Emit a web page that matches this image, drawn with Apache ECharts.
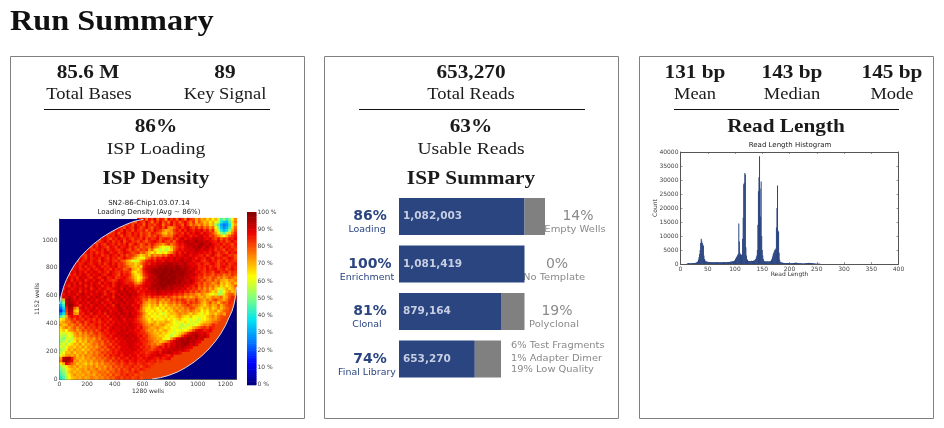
<!DOCTYPE html>
<html><head><meta charset="utf-8">
<style>html,body{margin:0;padding:0;background:#fff}#c{width:944px;height:428px}</style>
<script src="https://cdn.jsdelivr.net/npm/echarts@6/dist/echarts.min.js"></script>
</head><body><div id="c"></div>
<script>
// ---- funnel data
const funnelCats = ['Loading','Enrichment','Clonal','Final Library'];
const funnelKept = [1082003,1081419,879164,653270];
const funnelLost = [176140,0,202255,225894];
const funnelPct = ['86%','100%','81%','74%'];
const funnelRightPct = ['14%','0%','19%'];
const funnelRightName = ['Empty Wells','No Template','Polyclonal'];
const finalBreakdown = ['6% Test Fragments','1% Adapter Dimer','19% Low Quality'];
// ---- histogram: count per read length, index = bp
const readCounts = [0,0,0,0,0,0,0,0,0,0,0,0,100,200,300,350,300,280,260,250,260,280,300,320,340,360,380,400,450,500,
600,750,1000,1600,2500,3600,5000,7500,9000,8300,7500,7000,6500,3000,1800,1300,1000,900,850,800,
760,720,700,680,660,650,640,620,600,610,620,630,640,620,610,600,590,600,620,640,650,660,640,620,600,580,600,620,640,660,
680,700,680,660,640,650,670,690,700,720,740,760,780,800,850,900,950,1000,1100,1200,
1400,1800,2200,2500,2900,3300,3600,14500,8000,4000,3500,3300,3200,3500,9000,16500,28500,29000,32500,32000,
6000,3000,1800,1400,1200,1100,1050,1000,1050,1100,1150,1100,1050,1100,1200,1250,1300,1500,1800,2300,
3000,5000,14000,26000,31000,38500,27000,17000,29500,10000,5000,3000,1800,1200,1000,950,900,900,850,900,
950,900,850,900,950,1000,1200,1500,2000,2700,3500,4000,4500,5000,5200,5500,13000,20000,28000,12000,
11500,4000,1500,800,650,550,500,450,420,400,400,380,360,380,400,380,360,340,320,300,
300,280,300,320,300,320,340,360,380,400,420,450,480,430,400,380,350,320,300,280,
260,250,240,220,200,200,210,220,230,250,270,300,320,350,370,400,420,400,380,350,
350,320,280,240,200,180,160,140,120,100,100,90,80,70,60,50,50,40,40,35,30,30,25,20,20,15,15,10,10,5];
const histXTicks = [0,400,50];
const histYTicks = [0,40000,5000];
// ---- density map: % loading per 20x20 well block, top row first; 0 = no reading
const densityRows = [
[0,0,0,0,0,0,0,0,0,0,0,0,0,0,0,0,0,0,0,0,0,0,0,0,0,0,0,0,84,80,88,76,86,82,90,78,86,84,72,88,82,86,78,90,84,76,88,82,80,72,78,70,74,66,72,62,70,58,44,52,42,50,62,74],
[0,0,0,0,0,0,0,0,0,0,0,0,0,0,0,0,0,0,0,0,0,0,0,0,0,86,82,78,88,84,80,90,84,76,86,82,88,80,84,76,88,82,86,78,84,88,82,76,84,70,80,74,68,72,64,70,60,56,40,34,32,46,66,76],
[0,0,0,0,0,0,0,0,0,0,0,0,0,0,0,0,0,0,0,0,0,0,84,88,82,86,80,90,84,86,78,88,82,84,80,86,88,76,84,82,88,80,86,84,78,88,82,74,80,76,72,78,70,74,66,70,52,44,30,24,28,40,60,72],
[0,0,0,0,0,0,0,0,0,0,0,0,0,0,0,0,0,0,0,0,82,86,84,80,88,84,82,90,86,80,84,88,82,78,86,84,88,80,86,74,72,78,84,88,82,86,90,84,80,86,78,84,76,80,72,78,62,50,34,26,32,44,66,78],
[0,0,0,0,0,0,0,0,0,0,0,0,0,0,0,0,0,0,84,80,88,86,82,90,84,86,80,88,84,82,86,78,84,80,88,84,82,76,70,72,74,82,86,82,88,84,90,86,84,88,86,90,82,86,78,84,66,56,40,32,38,52,70,80],
[0,0,0,0,0,0,0,0,0,0,0,0,0,0,0,0,0,86,82,84,88,80,86,90,84,82,88,84,86,80,84,82,78,86,84,80,78,70,68,76,72,80,84,86,82,88,84,90,86,92,88,84,90,86,84,80,72,64,52,46,54,66,76,84],
[0,0,0,0,0,0,0,0,0,0,0,0,0,0,0,84,88,82,86,84,90,86,80,88,84,82,86,84,88,80,86,82,78,84,80,86,82,76,74,78,76,84,88,84,86,90,88,84,88,86,90,92,86,88,82,84,78,72,68,62,70,78,82,86],
[0,0,0,0,0,0,0,0,0,0,0,0,0,0,82,86,88,84,80,86,84,90,86,82,88,84,80,86,84,82,88,80,86,82,84,88,80,84,86,84,80,86,82,88,92,86,90,88,92,94,90,92,88,86,90,84,80,86,78,84,80,86,84,88],
[0,0,0,0,0,0,0,0,0,0,0,0,88,84,82,86,90,84,88,82,86,84,90,80,86,88,82,84,80,86,82,78,84,86,88,84,80,86,82,80,84,78,86,90,88,92,94,90,92,96,92,94,90,92,88,86,84,88,82,86,80,84,88,84],
[0,0,0,0,0,0,0,0,0,0,0,84,86,80,88,84,82,90,86,84,88,82,86,84,90,80,84,88,84,78,82,86,80,86,82,78,76,72,78,82,76,80,84,88,86,90,92,94,92,90,94,96,92,90,94,88,86,84,88,82,86,84,80,86],
[0,0,0,0,0,0,0,0,0,0,86,82,88,84,90,86,84,80,88,86,82,90,84,86,88,82,86,80,84,78,82,80,78,84,76,72,66,60,64,58,70,76,82,86,84,88,92,90,94,92,96,92,90,94,88,90,84,86,82,88,84,86,82,84],
[0,0,0,0,0,0,0,0,0,84,88,84,82,86,88,84,90,82,86,88,84,82,86,90,84,80,86,82,78,84,80,84,72,78,66,60,56,62,54,60,66,78,84,88,86,90,88,92,90,94,92,88,92,90,86,88,82,86,84,80,88,84,86,82],
[0,0,0,0,0,0,0,0,82,86,90,84,88,82,86,84,88,90,84,86,88,82,84,88,86,84,80,82,84,76,80,74,68,64,70,62,58,66,62,70,74,82,88,84,90,86,92,88,90,92,88,90,86,88,84,90,86,82,86,84,80,88,84,86],
[0,0,0,0,0,0,0,86,84,82,88,84,90,86,88,82,86,84,90,86,84,88,82,86,80,84,82,78,72,66,70,74,68,78,72,76,74,80,76,84,88,84,90,86,88,92,90,86,90,88,86,84,88,82,86,90,84,80,84,88,86,82,84,80],
[0,0,0,0,0,0,84,88,86,82,90,84,86,88,84,90,86,82,88,84,86,80,84,88,84,82,76,70,66,60,64,74,78,84,80,86,84,88,86,90,88,92,88,90,92,88,90,92,88,84,88,86,84,90,86,82,88,84,86,82,84,88,86,80],
[0,0,0,0,0,86,82,88,84,86,90,84,88,86,82,90,86,84,88,84,82,86,80,78,72,68,60,58,64,72,78,84,86,88,84,90,88,86,92,90,88,92,90,92,94,90,92,90,86,88,90,84,82,86,90,84,86,80,84,88,82,86,84,82],
[0,0,0,0,0,84,88,84,86,92,86,84,88,90,84,88,82,86,90,84,88,82,84,80,74,70,72,66,70,76,82,86,84,90,88,92,90,94,92,96,94,92,94,90,92,94,90,88,90,86,84,88,84,82,86,88,84,80,86,84,88,82,84,86],
[0,0,0,0,82,86,88,84,90,84,88,86,84,90,88,84,86,84,88,86,90,82,84,82,78,74,70,68,72,66,84,88,90,92,90,94,96,94,97,95,96,94,97,95,92,94,92,90,88,90,84,86,84,88,82,86,84,80,86,88,84,82,86,84],
[0,0,0,86,84,88,90,84,86,88,84,90,86,84,88,90,84,86,82,88,84,86,84,78,80,84,72,70,66,74,86,90,92,94,96,95,97,96,98,96,97,95,97,96,94,96,92,90,92,88,84,86,82,88,84,86,88,82,84,86,80,84,88,84],
[0,0,0,84,88,86,92,86,88,84,90,86,90,88,84,88,86,82,90,86,84,82,86,82,84,80,68,64,70,72,84,88,92,94,96,97,95,98,97,96,98,97,96,95,97,94,92,94,90,86,88,84,82,86,84,80,86,88,82,84,86,80,84,82],
[0,0,86,82,88,84,90,86,92,88,84,90,86,88,92,86,84,88,90,86,84,80,88,84,86,82,72,66,64,70,82,86,90,92,94,96,98,97,96,98,97,96,95,97,96,94,92,90,92,88,84,86,80,84,82,78,84,80,82,76,80,78,84,80],
[0,0,84,90,86,88,84,92,88,90,86,84,90,88,84,88,92,84,86,88,82,84,86,88,84,80,74,68,62,66,78,84,90,94,92,96,98,97,98,96,97,98,96,94,96,92,94,90,88,86,82,84,78,80,76,82,80,74,78,72,76,80,78,74],
[0,86,88,92,84,90,86,88,92,84,88,90,86,92,88,84,90,86,84,82,84,90,88,86,84,82,78,70,64,70,82,88,92,90,96,94,97,98,96,98,97,96,94,96,94,92,90,94,90,86,84,80,84,78,76,82,74,78,72,70,68,74,72,76],
[0,84,92,88,90,86,92,84,90,88,92,86,90,88,84,92,86,88,90,84,88,92,90,86,84,86,84,76,72,78,86,90,88,94,92,96,98,96,97,98,96,97,94,96,92,94,90,92,88,84,80,84,76,80,78,72,76,80,68,72,66,70,76,70],
[86,90,88,84,92,86,90,88,92,84,90,86,92,88,90,84,88,86,90,84,88,94,88,90,92,86,88,82,84,86,88,92,90,94,96,94,96,98,96,94,96,92,94,92,94,88,90,86,84,88,78,82,76,80,74,78,70,74,66,70,64,68,72,78],
[88,84,92,90,86,88,92,86,90,88,92,84,88,92,86,90,88,84,86,88,90,92,86,94,88,92,90,86,88,84,88,86,92,94,92,96,94,96,94,92,94,92,90,92,88,90,84,86,82,84,76,80,72,78,70,76,68,64,58,66,72,66,70,74],
[84,90,92,86,92,88,90,84,92,86,90,88,92,86,90,88,84,92,86,84,88,94,90,92,94,88,92,90,84,88,86,90,88,92,90,94,92,90,92,90,92,88,90,86,88,84,86,80,84,78,82,76,74,78,72,66,70,58,54,62,70,74,68,72],
[90,86,92,88,90,92,86,90,94,88,92,86,90,88,92,90,84,88,92,86,92,88,94,90,92,94,90,92,88,86,84,88,86,90,88,92,90,88,90,86,88,84,86,82,84,78,80,76,78,74,70,76,72,68,64,60,66,52,56,66,74,78,80,72],
[76,92,88,94,90,86,92,88,92,90,86,92,88,94,90,86,92,88,90,84,92,94,88,92,90,94,88,90,86,84,82,84,80,86,82,84,80,84,78,84,80,76,80,74,78,72,76,70,74,78,72,70,74,68,70,76,72,74,78,68,72,80,84,82],
[42,70,94,96,92,88,90,86,92,88,94,88,92,86,90,92,88,84,92,88,90,92,94,88,92,90,92,86,88,84,78,80,72,76,74,80,76,72,78,74,82,78,84,80,84,82,76,80,78,84,76,74,70,76,72,78,82,76,74,70,76,82,84,80],
[36,50,92,96,94,90,86,92,88,90,86,92,90,88,92,86,90,88,86,92,88,92,90,94,88,92,90,88,84,86,76,72,70,74,72,78,68,74,70,76,78,74,80,76,82,84,78,84,80,82,78,72,68,74,80,72,76,68,76,80,78,84,82],
[30,44,90,98,96,92,88,84,90,88,92,86,90,92,88,90,86,92,88,84,92,94,88,92,90,92,86,88,90,82,74,70,66,72,68,74,64,70,66,72,74,70,76,72,78,80,84,80,76,78,74,70,66,72,76,70,72,78,70,76,80,82],
[22,36,84,96,94,78,72,88,92,86,90,88,92,86,90,88,92,86,90,88,90,94,92,88,94,90,92,86,88,80,70,66,64,70,66,62,68,64,72,66,70,74,70,76,72,78,76,82,80,74,70,66,72,68,74,66,70,76,68,74,78],
[16,30,82,94,92,70,66,84,88,90,86,92,88,90,86,92,88,92,86,90,88,92,94,90,88,92,90,88,84,78,72,64,66,62,68,64,60,68,62,70,66,72,76,70,74,76,72,78,74,70,72,62,68,64,72,70,74,66,72,78,80],
[28,38,78,92,90,74,72,86,84,90,88,84,92,88,86,90,84,92,88,90,92,88,94,92,90,94,88,90,86,82,74,68,62,66,60,66,62,58,64,66,70,68,72,76,72,74,70,66,72,68,64,60,66,62,70,72,66,72,76,72],
[44,52,70,84,88,84,86,82,88,84,86,90,86,84,90,86,88,84,92,88,90,94,88,92,90,94,92,88,84,80,72,66,68,62,64,60,64,66,60,68,64,66,70,74,68,66,64,70,62,60,64,60,62,68,72,76,70,76,80],
[62,66,74,78,84,80,86,84,82,88,84,86,82,88,84,90,86,88,84,90,88,92,90,86,92,88,90,86,82,78,74,68,64,70,62,66,60,64,68,62,66,60,66,70,64,62,60,58,62,60,56,64,62,66,70,74,72,78],
[68,72,76,74,80,84,78,84,86,80,84,88,84,86,82,86,88,84,90,86,90,88,92,88,90,92,88,86,84,80,76,72,66,68,72,66,70,68,72,70,66,62,58,64,60,66,62,58,60,56,60,66,68,70,72,76,78],
[72,68,70,78,74,78,82,76,84,80,86,82,84,88,84,88,84,90,86,88,92,88,90,92,88,94,90,88,86,84,78,74,72,76,70,68,72,74,68,64,66,60,62,58,54,60,56,60,58,62,66,72,76,74,78,84],
[66,72,76,70,76,80,74,80,78,84,80,84,82,86,82,86,88,84,88,92,88,90,92,88,92,90,92,88,84,88,80,78,74,70,72,74,70,68,64,68,62,60,64,56,60,58,62,64,70,74,78,82,84,80,86,84],
[64,68,62,72,74,78,72,76,82,78,82,80,84,80,84,88,84,86,90,88,90,88,92,90,92,88,90,86,88,84,82,76,72,74,68,72,66,70,72,66,64,58,62,60,64,62,66,72,80,86,90,88,84,86,88],
[60,58,64,60,66,72,76,70,78,74,80,76,82,84,80,84,86,84,88,86,88,92,90,92,88,92,90,88,86,84,84,80,76,72,70,68,72,66,68,64,60,58,60,66,70,76,84,88,92,94,90,88,92,86],
[58,54,56,62,58,70,74,72,76,72,76,80,78,82,78,82,84,88,84,88,92,88,92,90,94,90,92,90,86,88,82,84,78,74,72,70,66,68,62,60,56,62,66,72,82,88,92,94,92,96,92,90,94,88],
[54,50,58,60,56,66,70,68,74,70,74,76,72,80,76,84,82,84,86,88,84,90,88,92,90,92,88,92,88,84,86,82,78,76,74,70,72,64,60,62,72,80,88,92,94,92,96,94,92,94,90,92],
[52,56,60,54,60,64,72,66,72,68,76,72,76,78,80,78,84,80,86,84,88,86,90,88,92,90,92,90,88,86,84,84,80,78,72,74,68,70,74,80,86,90,92,94,96,94,96,92,94,90,88],
[56,60,54,62,66,70,68,74,66,72,70,74,78,74,80,76,82,84,80,86,84,88,90,88,90,92,90,88,86,88,84,82,80,76,78,72,76,82,88,84,90,88,94,92,94,96,94,90,92,88],
[60,56,62,68,70,66,72,68,74,68,74,72,76,72,78,82,78,84,86,82,88,84,88,90,88,92,90,88,90,84,86,82,84,78,80,84,88,84,90,86,92,90,94,92,96,92,90,88],
[52,58,64,72,68,74,70,72,66,72,70,76,74,78,80,76,82,78,84,86,84,86,90,88,90,88,92,90,86,88,84,84,82,80,84,86,84,90,88,92,90,94,92,90,92,88,86],
[56,62,70,68,74,66,72,70,74,68,76,72,78,74,78,82,80,84,82,86,84,88,86,90,88,90,88,86,88,84,86,82,84,86,88,90,86,92,90,94,92,88,90,86],
[60,66,72,74,70,74,68,74,70,76,72,74,78,76,80,78,84,80,86,84,86,88,84,88,90,86,90,88,84,88,86,84,86,90,88,92,90,88,86,84,88],
[72,92,94,96,86,76,70,72,68,74,72,76,72,78,76,80,78,82,84,80,86,82,88,86,84,90,86,88,86,84,88,86,90,88,86,84,88,84,86,88],
[76,94,96,92,88,72,74,68,72,70,74,70,76,74,78,74,80,82,78,84,82,86,82,86,88,84,86,88,84,86,84,88,86,84,86,82,84],
[64,70,88,84,78,74,68,72,70,66,72,68,74,70,76,72,78,76,80,78,82,84,80,84,86,82,84,86,82,84,86,84,82,84],
[52,58,64,70,74,70,74,68,72,70,74,72,76,70,74,76,72,78,76,82,78,82,80,84,82,84,86,82,84,80,84,86,84,82],
[50,54,60,66,70,72,68,72,74,70,76,72,74,78,72,76,74,80,76,78,82,78,84,80,82,86,80,84,82,86,84,82],
[46,52,58,68,72,68,72,70,74,72,70,76,72,74,78,76,78,74,80,78,82,80,84,82,80,84,82,86,84,80],
[44,48,56,64,70,74,70,72,70,74,72,74,70,76,74,78,76,80,76,82,78,80,84,82,86,82,84,80,82],
[40,46,54,62,68,70,72,70,74,70,72,76,74,72,76,74,78,76,80,78,82,84,80,84,82,84,80,82,84,80]
];
const blockSize = 20, chipW = 1280, chipH = 1152;
const arcUpperLeft = [[0,541],[12,600],[29,661],[50,715],[77,769],[110,824],[150,877],[195,925],[247,972],[305,1017],[368,1056],[428,1089],[489,1116],[540,1135],[585,1145],[610,1152]];
const arcLowerRight = [[1280,661],[1274,600],[1263,541],[1248,490],[1227,445],[1200,385],[1166,326],[1126,270],[1082,218],[1030,168],[973,122],[912,82],[852,50],[790,26],[731,10],[670,0]];
const cornersUpperLeft = [[0,1152]];
const cornersLowerRight = [[1280,0]];
const colorbarPct = [0,100,10];
const jet = ['#00007f','#0000ff','#007fff','#00e5f0','#7fff7f','#ffff00','#ff7f00','#ee0000','#7f0000'];

const cells = [];
densityRows.forEach((row, r) => row.forEach((v, c) => {
  if (v > 0) cells.push([c * blockSize, (densityRows.length - 1 - r) * blockSize, v]);
}));
const barLevels = Array.from({length:colorbarPct[1]}, (_, i) => ['c', i, i]);
function polyItem(points, color){
  return function(params, api){
    if (params.dataIndex !== 0) return;
    return {type:'polygon', shape:{points:points.map(p => api.coord(p))}, style:{fill:color, stroke:null}};
  };
}
const TF = 'DejaVu Sans';
const tk = {color:'#444', fontFamily:TF, fontSize:6, margin:2, formatter:v=>String(v)};
function frameAxis(gi, pos, min, max, interval){
  return {type:'value', gridIndex:gi, position:pos, min, max, interval, axisLabel:{show:false},
    axisLine:{show:true,onZero:false,lineStyle:{color:'#555',width:1}},
    axisTick:{show:true,inside:true,length:2,lineStyle:{color:'#555',width:.6}}, splitLine:{show:false}};
}
function mainAxis(gi, pos, min, max, interval, name, gap, rot){
  return {type:'value', gridIndex:gi, position:pos, min, max, interval,
    name, nameLocation:'middle', nameGap:gap, nameRotate:rot, nameMoveOverlap:false,
    nameTextStyle:{color:'#333', fontFamily:TF, fontSize:6},
    axisLabel:Object.assign({showMaxLabel:max % interval === 0}, tk),
    axisLine:{show:true,onZero:false,lineStyle:{color:'#555',width:1}},
    axisTick:{show:true,inside:true,length:2,lineStyle:{color:'#555',width:.6}}, splitLine:{show:false}};
}
const S = 'Liberation Serif', INK = '#1a1a1a', NAVY = '#2b4580', GR = '#8a8a8a';
function T(x,y,text,font,fill,align,sx){
  return {type:'text', x, y, scaleX:sx||1, silent:true, style:{text, font, fill:fill||INK, align:align||'center', verticalAlign:'middle'}};
}
function panel(x){ return {type:'rect', silent:true, shape:{x:x+.5,y:56.5,width:294,height:362}, style:{fill:'none',stroke:'#808080',lineWidth:1}}; }
function rule(x1,x2){ return {type:'line', silent:true, shape:{x1,y1:109.5,x2,y2:109.5}, style:{stroke:'#111',lineWidth:1}}; }
const B18 = 'bold 19px '+S, R18 = '16.5px '+S, R20 = '17.5px '+S, H = 'bold 19px '+S, W = 1.12;
const rowY = [216.5,264,311.5,359];
const graphics = [
  panel(10), panel(324), panel(639), rule(44,270), rule(359,585), rule(674,899),
  T(10,22.5,'Run Summary','bold 30px '+S,'#111','left',1.076),
  T(88,73,'85.6 M',B18,INK,'center',W), T(225,73,'89',B18,INK,'center',W),
  T(89,95,'Total Bases',R18,INK,'center',W), T(225,95,'Key Signal',R18,INK,'center',W),
  T(156,127,'86%',B18,INK,'center',W), T(156,149.5,'ISP Loading',R20,INK,'center',W),
  T(156,179,'ISP Density',H,INK,'center',W),
  T(471,73,'653,270',B18,INK,'center',W), T(471,95,'Total Reads',R18,INK,'center',W),
  T(471,127,'63%',B18,INK,'center',W), T(471,149.5,'Usable Reads',R20,INK,'center',W),
  T(471,179,'ISP Summary',H,INK,'center',W),
  T(695,73,'131 bp',B18,INK,'center',W), T(792,73,'143 bp',B18,INK,'center',W), T(892,73,'145 bp',B18,INK,'center',W),
  T(695,95,'Mean',R18,INK,'center',W), T(792,95,'Median',R18,INK,'center',W), T(892,95,'Mode',R18,INK,'center',W),
  T(786,127,'Read Length',H,INK,'center',W)
];
funnelCats.forEach((n,i)=>{
  graphics.push(T(370,rowY[i],funnelPct[i],'bold 14px '+TF,NAVY));
  graphics.push(T(367,rowY[i]+13.5,n,'8px '+TF,NAVY,'center',1.18));
});
[578,557,557].forEach((x,i)=>{
  graphics.push(T(x,rowY[i],funnelRightPct[i],'14px '+TF,GR));
  graphics.push(T(x-3,rowY[i]+13.5,funnelRightName[i],'8.5px '+TF,GR,'center',1.17));
});
[346,358.5,370].forEach((y,i)=>graphics.push(T(511,y,finalBreakdown[i],'8.5px '+TF,GR,'left',1.16)));

const option = {
  animation:false,
  backgroundColor:'#fff',
  title:[
    {text:'SN2-86-Chip1.03.07.14\nLoading Density (Avg ~ 86%)', left:149, top:199, textAlign:'center', padding:0,
     textStyle:{fontFamily:TF,fontSize:7,fontWeight:'normal',color:'#222',lineHeight:9}},
    {text:'Read Length Histogram', left:790, top:141.5, textAlign:'center', padding:0,
     textStyle:{fontFamily:TF,fontSize:7,fontWeight:'normal',color:'#222'}}
  ],
  graphic:{elements:graphics},
  grid:[
    {left:59.5,top:219,width:177,height:160,show:true,backgroundColor:'#f04000',borderWidth:0},
    {left:247,top:212,width:9.5,height:172.7,show:false},
    {left:399,top:192.75,width:146,height:190,show:false},
    {left:680.5,top:152,width:218,height:112,show:false}
  ],
  xAxis:[
    mainAxis(0,'bottom',0,chipW,200,'1280 wells',9,0),
    frameAxis(0,'top',0,chipW,200),
    {type:'category',gridIndex:1,show:false,data:['c']},
    {type:'value',gridIndex:2,show:false,min:0,max:1258143},
    mainAxis(3,'bottom',histXTicks[0],histXTicks[1],histXTicks[2],'Read Length',7,0),
    frameAxis(3,'top',histXTicks[0],histXTicks[1],histXTicks[2])
  ],
  yAxis:[
    mainAxis(0,'left',0,chipH,200,'1152 wells',19,90),
    frameAxis(0,'right',0,chipH,200),
    {type:'value',gridIndex:1,position:'right',min:colorbarPct[0],max:colorbarPct[1],interval:colorbarPct[2],
     axisLine:{show:false},axisTick:{show:false},splitLine:{show:false},
     axisLabel:Object.assign({},tk,{formatter:'{value} %',margin:1})},
    {type:'category',gridIndex:2,show:false,inverse:true,data:funnelCats},
    mainAxis(3,'left',histYTicks[0],histYTicks[1],histYTicks[2],'Count',22,90),
    frameAxis(3,'right',histYTicks[0],histYTicks[1],histYTicks[2])
  ],
  visualMap:{type:'continuous',show:false,seriesIndex:[0,8],dimension:2,min:0,max:100,inRange:{color:jet}},
  series:[
    {type:'custom',name:'Loading density',xAxisIndex:0,yAxisIndex:0,clip:true,
     encode:{x:0,y:1},data:cells,
     renderItem(params,api){
       const x=api.value(0), y=api.value(1);
       const a=api.coord([x,y+blockSize]), b=api.coord([x+blockSize,y]);
       return {type:'rect',shape:{x:a[0],y:a[1],width:b[0]-a[0]+.6,height:b[1]-a[1]+.6},style:{fill:api.visual('color')}};
     }},
    {type:'custom',xAxisIndex:0,yAxisIndex:0,clip:true,data:arcUpperLeft,encode:{x:0,y:1},
     renderItem:polyItem(cornersUpperLeft.concat(arcUpperLeft),'#00007f')},
    {type:'custom',xAxisIndex:0,yAxisIndex:0,clip:true,data:arcLowerRight,encode:{x:0,y:1},
     renderItem:polyItem(cornersLowerRight.concat(arcLowerRight),'#00007f')},
    {type:'line',xAxisIndex:0,yAxisIndex:0,data:arcUpperLeft,symbol:'none',lineStyle:{color:'#d5d9e0',width:1}},
    {type:'line',xAxisIndex:0,yAxisIndex:0,data:arcLowerRight,symbol:'none',lineStyle:{color:'#d5d9e0',width:1}},
    {type:'bar',name:'Kept',xAxisIndex:3,yAxisIndex:3,stack:'f',barWidth:37,data:funnelKept,
     itemStyle:{color:'#2b4581'},
     label:{show:true,position:'insideLeft',distance:4,color:'#c6cee2',fontFamily:TF,fontWeight:'bold',fontSize:10.5,
       formatter:p=>p.value.toLocaleString('en-US')}},
    {type:'bar',name:'Lost',xAxisIndex:3,yAxisIndex:3,stack:'f',barWidth:37,data:funnelLost,itemStyle:{color:'#808080'}},
    {type:'bar',name:'Reads',xAxisIndex:4,yAxisIndex:4,barWidth:1,
     data:readCounts.map((v,i)=>[i,v]),itemStyle:{color:'#2a4480'}},
    {type:'custom',name:'Colour bar',xAxisIndex:2,yAxisIndex:2,data:barLevels,encode:{x:0,y:1},
     renderItem(params,api){
       const y=api.value(1), a=api.coord(['c',y+1]), b=api.coord(['c',y]), cs=params.coordSys;
       return {type:'rect',shape:{x:cs.x,y:a[1],width:cs.width,height:b[1]-a[1]+.6},style:{fill:api.visual('color')}};
     }}
  ]
};
const chart = echarts.init(document.getElementById('c'),null,{renderer:'canvas'});
chart.setOption(option);
</script></body></html>
